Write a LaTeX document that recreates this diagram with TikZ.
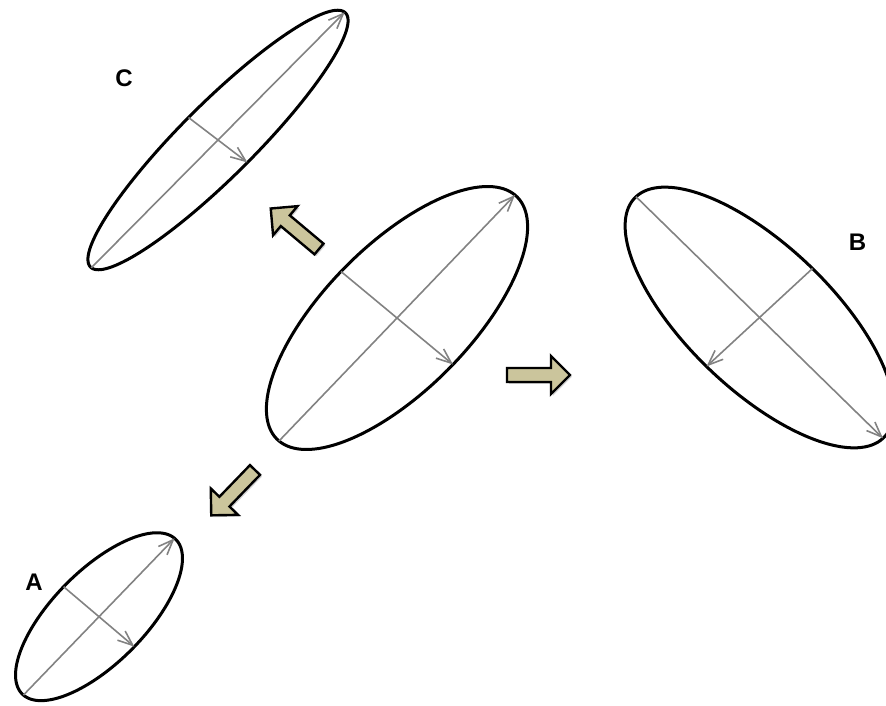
\documentclass[tikz,border=0pt]{standalone}
\usepackage{fontspec}
\setmainfont{Liberation Sans}
\usetikzlibrary{arrows.meta}
\definecolor{khaki}{RGB}{203,197,156}
\definecolor{axisgray}{RGB}{130,130,130}
\tikzset{
 ellline/.style={line width=3pt, black},
 axisline/.style={line width=1.6pt, axisgray, -{Straight Barb[length=15pt,width=12pt]}},
 lab/.style={font=\fontsize{24}{24}\selectfont\bfseries, inner sep=0pt},
 blockarr/.style={fill=khaki, draw=black, line width=2.4pt, line join=miter},
 blockshadow/.style={fill=black, opacity=0.18},
}
\newcommand{\conjellipse}[7]{%
 \coordinate (#1c) at (#2,#3);
 \coordinate (#1a1) at ({#2-#4},{#3-#5});
 \coordinate (#1a2) at ({#2+#4},{#3+#5});
 \coordinate (#1b1) at ({#2-#6},{#3-#7});
 \coordinate (#1b2) at ({#2+#6},{#3+#7});
 \draw[ellline] plot[variable=\t,domain=0:357.5,samples=144,smooth cycle] ({#2+#4*cos(\t)+#6*sin(\t)},{#3+#5*cos(\t)+#7*sin(\t)});
 \draw[axisline] (#1a1) -- (#1a2);
 \draw[axisline] (#1b1) -- (#1b2);
}
\newcommand{\blockarrow}[4]{%
 \coordinate (#1) at (#2,#3);
 \begin{scope}[shift={({#2+1.8},{#3+1.8})},rotate=#4]
  \fill[blockshadow] (0,7)--(44,7)--(44,19)--(63,0)--(44,-19)--(44,-7)--(0,-7)--cycle;
 \end{scope}
 \begin{scope}[shift={(#2,#3)},rotate=#4]
  \draw[blockarr] (0,7)--(44,7)--(44,19)--(63,0)--(44,-19)--(44,-7)--(0,-7)--cycle;
 \end{scope}
}
\begin{document}
\begin{tikzpicture}[x=1pt,y=-1pt]
\useasboundingbox (0,0) rectangle (886,706);
% central ellipse
\conjellipse{M}{397}{318}{118}{-123}{56}{46.5}
% ellipse B
\conjellipse{B}{759.5}{317.5}{123.5}{120.8}{-53}{49}
% ellipse C
\conjellipse{C}{218}{140}{126.7}{-127.8}{29.5}{22.5}
% ellipse A
\conjellipse{A}{99}{616.7}{75.6}{-78.4}{35.4}{30}
% labels
\node[lab] (labC) at (124,78) {C};
\node[lab] (labB) at (857.5,242) {B};
\node[lab] (labA) at (34,582) {A};
% block arrows
\blockarrow{arrR}{507}{375}{0}
\blockarrow{arrUL}{319}{249}{140}
\blockarrow{arrDL}{255}{470}{226}
\end{tikzpicture}
\end{document}
